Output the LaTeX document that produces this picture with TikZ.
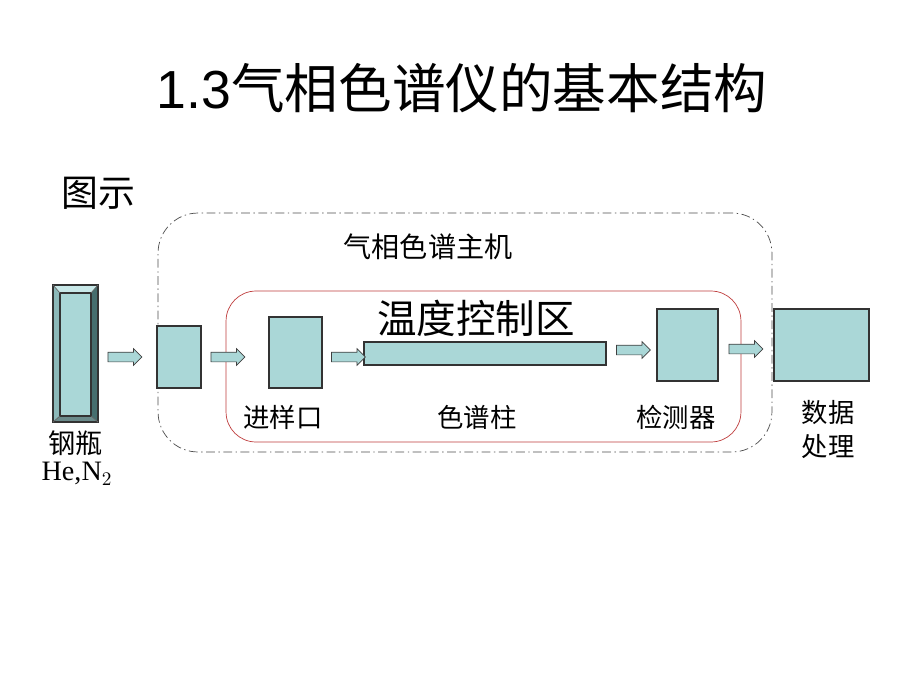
\documentclass[tikz,border=0pt]{standalone}
\usepackage{fontspec}
\setmainfont{Liberation Serif}
\newfontfamily\cjk{Noto Sans CJK SC}
\newfontfamily\arial{Liberation Sans}
\usetikzlibrary{shapes.arrows}
\definecolor{boxfill}{RGB}{170,215,215}
\definecolor{bevellight}{RGB}{200,232,232}
\definecolor{beveldark}{RGB}{70,110,110}
\definecolor{bevelmid}{RGB}{140,185,185}
\definecolor{zonered}{RGB}{190,60,60}
\tikzset{
  part/.style={draw=black!80, fill=boxfill, inner sep=0pt, line width=0.8pt},
  flow/.style={single arrow, draw=black!75, fill=boxfill, inner xsep=0pt, inner ysep=0.09cm,
    minimum height=0.68cm, single arrow head extend=0.07cm},
  lab/.style={font=\cjk\fontsize{15}{17}\selectfont},
}
\begin{document}
\begin{tikzpicture}[x=0.02cm,y=-0.02cm]
\useasboundingbox (0,0) rectangle (920,690);
% titles
\node (title) at (462,88) {\fontsize{30.5}{34}\selectfont\arial 1.3\cjk 气相色谱仪的基本结构};
\node (fig) at (98,193) {\cjk\fontsize{21}{24}\selectfont 图示};
% frames
\node[draw=black!70, dash pattern=on 5pt off 2pt on 0.8pt off 2pt, rounded corners=0.8cm,
  minimum width=12.28cm, minimum height=4.78cm] (host) at (465,332.5) {};
\node[draw=zonered, rounded corners=0.6cm, minimum width=10.3cm, minimum height=3.02cm] (zone) at (483.5,366.5) {};
\node[lab, font=\cjk\fontsize{16}{18}\selectfont] (hostlab) at (428,247) {气相色谱主机};
\node[font=\cjk\fontsize{22.5}{25}\selectfont] (zonelab) at (476,318) {温度控制区};
% gas bottle
\fill[bevelmid] (53,285) rectangle (98,422);
\fill[bevellight] (53,285) -- (98,285) -- (91,293) -- (60,293) -- cycle;
\fill[beveldark] (98,285) -- (98,422) -- (91,416) -- (91,293) -- cycle;
\fill[beveldark!80] (53,422) -- (98,422) -- (91,416) -- (60,416) -- cycle;
\node[part, minimum width=0.62cm, minimum height=2.46cm] (bottle) at (75.5,354.5) {};
\draw[black!80, line width=0.8pt] (53,285) rectangle (98,422);
\draw[black!60] (53,285) -- (60,293) (98,285) -- (91,293) (53,422) -- (60,416) (98,422) -- (91,416);
\node[lab, font=\cjk\fontsize{15.5}{17}\selectfont] (bottlelab) at (76,443) {钢瓶};
\node[font=\fontsize{16}{18}\selectfont] (gaslab) at (77,474) {He,N$_2$};
% parts
\node[part, minimum width=0.88cm, minimum height=1.24cm] (box) at (179,357) {};
\node[part, minimum width=1.06cm, minimum height=1.42cm] (inlet) at (295.5,352.5) {};
\node[part, minimum width=4.84cm, minimum height=0.46cm] (column) at (485,353.5) {};
\node[part, minimum width=1.22cm, minimum height=1.44cm] (detector) at (687.5,345) {};
\node[part, minimum width=1.9cm, minimum height=1.44cm] (data) at (821.5,345) {};
% flow arrows
\node[flow] (a1) at (122.5,357) {};
\node[flow] (a2) at (225.5,357) {};
\node[flow] (a3) at (346,357) {};
\node[flow] (a4) at (631,350) {};
\node[flow] (a5) at (743.5,349) {};
% labels
\node[lab] (inletlab) at (283,417) {进样口};
\node[lab] (columnlab) at (477,417) {色谱柱};
\node[lab] (detectorlab) at (676,417) {检测器};
\node[lab] (datalab1) at (828,413) {数据};
\node[lab] (datalab2) at (828,447) {处理};
\end{tikzpicture}
\end{document}
